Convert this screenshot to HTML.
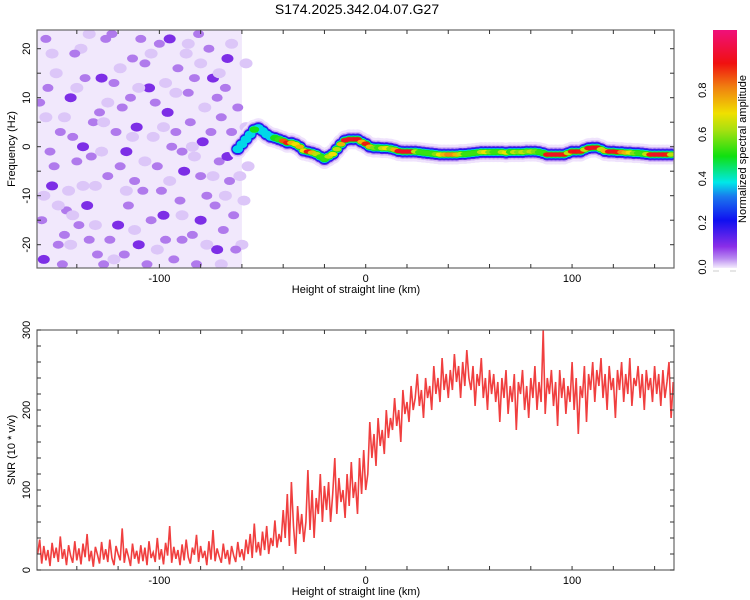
<!DOCTYPE html>
<html><head><meta charset="utf-8"><style>
body{margin:0;background:#fff;}
svg{display:block;font-family:"Liberation Sans",sans-serif;}
</style></head><body>
<svg id="fig" width="750" height="600" viewBox="0 0 750 600">
<defs>
<clipPath id="clipTop"><rect x="37" y="30" width="637" height="238"/></clipPath>
<clipPath id="clipBot"><rect x="37" y="330" width="637" height="240"/></clipPath>
<linearGradient id="cbar" x1="0" y1="1" x2="0" y2="0">
<stop offset="0" stop-color="#f4ecfd"/><stop offset="0.04" stop-color="#b98af0"/>
<stop offset="0.09" stop-color="#8a2ee8"/><stop offset="0.2" stop-color="#1010f0"/>
<stop offset="0.3" stop-color="#1a78ee"/><stop offset="0.36" stop-color="#00e8e8"/>
<stop offset="0.47" stop-color="#10e010"/><stop offset="0.58" stop-color="#a8e010"/>
<stop offset="0.65" stop-color="#f0e000"/><stop offset="0.76" stop-color="#f08010"/>
<stop offset="0.86" stop-color="#f01010"/><stop offset="1" stop-color="#f0107a"/>
</linearGradient>
</defs>
<text x="357" y="14" text-anchor="middle" font-size="14">S174.2025.342.04.07.G27</text>
<g id="topPanel"></g>
<g id="botPanel"></g>
<g>
<rect x="713" y="30" width="24" height="238" fill="url(#cbar)"/>
<line x1="713" y1="271" x2="719" y2="271" stroke="#ccc"/>
<line x1="730" y1="271" x2="736" y2="271" stroke="#ccc"/>
<g id="cbticks" font-size="11"></g>
<text transform="translate(746,149) rotate(-90)" text-anchor="middle" font-size="11">Normalized spectral amplitude</text>
</g>
</svg>
<script>
// ---- data ----
const ridgeF=[-0.5,0.5,1.5,2.5,3.5,3.8,3.2,2.5,2,1.8,
1.5,1.2,0.8,0.8,0.5,0,-0.8,-1,-1.2,-1.5,
-2,-2.5,-2,-1.5,-0.5,0.5,1.3,1.5,1.5,1.5,
1,0.6,0,-0.2,-0.2,-0.3,-0.3,-0.4,-0.6,-0.9,
-1,-1,-1,-1,-1.1,-1.2,-1.3,-1.4,-1.5,-1.6,
-1.6,-1.6,-1.6,-1.6,-1.5,-1.5,-1.4,-1.3,-1.2,-1.1,
-1.1,-1.1,-1.1,-1.1,-1.1,-1.2,-1.1,-1.1,-1.1,-1.1,
-1,-1,-1,-1.1,-1.3,-1.6,-1.6,-1.6,-1.6,-1.6,
-1.3,-1,-1,-1,-0.6,-0.3,-0.2,-0.2,-0.5,-0.9,
-1,-1,-1.1,-1.1,-1.2,-1.2,-1.3,-1.3,-1.4,-1.5,
-1.6,-1.6,-1.6,-1.6,-1.6,-1.6];
const ridgeA=[0.3,0.35,0.3,0.35,0.45,0.4,0.3,0.25,0.35,0.45,
0.5,0.8,0.85,0.7,0.65,0.7,0.65,0.85,0.7,0.6,
0.5,0.5,0.6,0.65,0.6,0.7,0.9,0.9,0.9,0.88,
0.7,0.85,0.7,0.55,0.5,0.6,0.65,0.55,0.7,0.9,
0.9,0.9,0.9,0.6,0.5,0.5,0.5,0.5,0.55,0.65,
0.7,0.75,0.75,0.7,0.6,0.5,0.5,0.5,0.5,0.6,
0.65,0.55,0.5,0.5,0.6,0.65,0.5,0.6,0.55,0.6,
0.55,0.6,0.55,0.5,0.5,0.88,0.9,0.9,0.9,0.85,
0.6,0.85,0.88,0.85,0.6,0.88,0.9,0.88,0.6,0.7,
0.88,0.9,0.85,0.75,0.7,0.65,0.55,0.5,0.5,0.6,
0.85,0.9,0.9,0.9,0.85,0.6];
const ridgeStartKm=-62, ridgeStepKm=2;
const noiseBlobs=[[-155,22,2],[-150,15,1],[-148,3,2],[-152,-8,3],[-146,-18,2],[-156,-23,3],[-143,10,3],[-140,-3,2],[-138,20,1],[-135,-12,3],[-132,5,2],[-130,-22,2],[-128,14,3],[-125,-6,2],[-123,23,2],[-120,-16,3],[-118,8,2],[-116,-1,3],[-113,18,2],[-110,-20,3],[-108,-9,2],[-105,12,3],[-103,2,1],[-100,21,2],[-98,-14,3],[-96,7,3],[-93,-23,2],[-91,16,2],[-88,-5,3],[-86,11,2],[-84,-18,2],[-81,23,2],[-79,1,3],[-77,-10,2],[-74,14,3],[-72,-21,3],[-70,6,2],[-67,18,3],[-66,-7,2],[-64,-14,2],[-62,25,1],[-60,-20,1],[-153,-1,2],[-145,-13,2],[-137,0,3],[-127,-24,2],[-122,13,2],[-115,-12,2],[-111,4,3],[-106,-24,2],[-101,-4,2],[-95,22,3],[-90,-11,2],[-85,5,2],[-80,-15,3],[-76,20,2],[-71,-3,2],[-68,12,2],[-149,-20,2],[-141,19,2],[-134,-19,2],[-119,-4,2],[-97,-19,2],[-87,19,1],[-82,-24,2],[-73,-12,2],[-65,3,2],[-158,9,2],[-157,-15,2],[-144,-9,1],[-131,-8,1],[-126,22,2],[-117,-22,2],[-107,17,2],[-94,0,2],[-89,-1,2],[-78,8,1],[-69,-17,2],
[-154,12,2],[-151,-4,2],[-147,-24,2],[-142,2,2],[-139,-16,2],[-136,14,2],[-133,-2,2],[-129,7,2],[-124,-19,2],[-121,3,2],[-114,10,2],[-112,-7,2],[-109,22,2],[-104,-15,2],[-102,9,2],[-99,-9,2],[-92,3,2],[-89,-19,2],[-83,14,2],[-80,-6,2],[-75,3,2],[-72,10,2],[-67,-2,3],[-63,-21,2],[-62,8,2],[-59,-11,1],[-58,17,1],[-57,-4,1],
[-155,6,1],[-152,19,1],[-149,-12,1],[-146,6,1],[-143,-20,1],[-140,12,1],[-137,-8,1],[-134,23,1],[-131,-16,1],[-128,-1,1],[-125,9,1],[-122,-23,1],[-119,16,1],[-116,-9,1],[-113,2,1],[-110,12,1],[-107,-3,1],[-104,19,1],[-101,-21,1],[-98,4,1],[-95,-7,1],[-92,11,1],[-89,-14,1],[-86,21,1],[-83,-2,1],[-80,17,1],[-77,-20,1],[-74,-6,1],[-71,15,1],[-68,-10,1],[-65,21,1],[-61,-6,1],[-58,4,1],[-156,-10,1],[-142,-14,1],[-127,5,1],[-112,-17,1],[-97,13,1],[-84,0,1],[-70,-24,1]];
const snrStartKm=-159;
const snr=[20,38,8,30,12,25,5,34,15,28,
10,42,14,26,6,31,18,9,36,12,
27,7,33,16,45,11,24,4,29,19,
8,35,13,26,10,38,15,6,30,20,
12,52,9,27,17,5,33,14,24,8,
31,11,28,6,36,15,22,10,40,13,
26,7,34,18,55,9,29,14,25,6,
32,12,38,16,8,28,19,44,10,30,
15,24,6,36,13,50,11,27,17,9,
33,14,25,7,30,18,10,35,16,26,
12,38,20,45,15,58,22,35,18,48,
25,55,20,40,30,62,28,45,35,75,
40,95,30,110,55,20,80,45,70,35,
60,125,50,100,40,90,70,120,60,105,
75,110,60,95,140,70,115,85,100,65,
120,80,135,90,110,70,140,95,150,100,
120,185,140,170,130,190,155,175,145,200,
165,190,175,215,180,200,160,225,195,210,
185,230,200,215,245,205,225,190,240,215,
230,200,255,220,240,210,265,225,245,215,
250,225,270,235,255,215,260,230,275,240,
225,255,205,245,230,265,215,240,200,250,
220,245,210,235,185,240,215,250,195,230,
210,245,175,235,220,250,200,230,190,240,
215,255,200,235,210,300,195,240,220,250,
205,235,180,250,215,240,195,230,210,260,
200,240,170,230,215,255,185,245,225,260,
210,250,230,265,215,245,200,255,225,240,
190,250,225,260,210,245,220,265,205,240,
230,255,215,245,200,250,225,240,210,255,
220,245,205,250,215,235,260,190,235];
const xTicks=[-100,0,100];
const freqTicks=[-20,-10,0,10,20];
const snrTicks=[0,100,200,300];
const cbTicks=["0.0","0.2","0.4","0.6","0.8"];

// ---- axes ----
const X0=37,X1=674,KM0=-159.3,KM1=149.4;
const xs=k=>X0+(k-KM0)/(KM1-KM0)*(X1-X0);
const fy=f=>146.7-f*4.9;
const sy=v=>570-v*0.8;
const cy=v=>267-v*221;
const NS="http://www.w3.org/2000/svg";
function mk(tag,attrs,parent){const e=document.createElementNS(NS,tag);for(const k in attrs)e.setAttribute(k,attrs[k]);parent.appendChild(e);return e;}
function ampColor(a){
 const st=[[0,[244,236,253]],[0.04,[185,138,240]],[0.09,[138,46,232]],[0.2,[16,16,240]],[0.3,[26,120,238]],[0.36,[0,232,232]],[0.47,[16,224,16]],[0.58,[168,224,16]],[0.65,[240,224,0]],[0.76,[240,128,16]],[0.86,[240,16,16]],[1.07,[240,16,122]]];
 for(let i=1;i<st.length;i++){if(a<=st[i][0]){const t=(a-st[i-1][0])/(st[i][0]-st[i-1][0]);const c=st[i-1][1].map((v,j)=>Math.round(v+t*(st[i][1][j]-v)));return `rgb(${c})`;}}
 return 'rgb(240,16,122)';
}
const topG=document.getElementById('topPanel'),botG=document.getElementById('botPanel');

// ---- spectrogram ----
const sg=mk('g',{'clip-path':'url(#clipTop)'},topG);


const bgr=mk('rect',{x:X0,y:30,width:xs(-60)-X0,height:238,fill:'#f1e8fc'},sg);


const blobCol={1:'#dcc6f8',2:'#b07aec',3:'#7d2ee6'};
const blobR={1:5,2:4,3:4.5};
noiseBlobs.forEach(b=>{
 const c=mk('ellipse',{cx:xs(b[0]),cy:fy(b[1]),rx:blobR[b[2]]+1.5,ry:blobR[b[2]],fill:blobCol[b[2]]},sg);
 
 
});
const layers=[[10,'#efe3fc',0],[7.5,'#d2b4f6',0],[6,'#5a28e8',0],[5,'#1414f0',0],[4,'#00d8e8',0.25],[3.2,'#18e018',0.45],[2.2,null,0.5]];
layers.forEach(L=>{
 ridgeF.forEach((f,i)=>{
  const a=ridgeA[i];
  if(a<L[2])return;
  const k=ridgeStartKm+i*ridgeStepKm;
  const e=mk('ellipse',{cx:xs(k),cy:fy(f),rx:L[0]*0.6+3,ry:L[0],fill:L[1]||ampColor(a)},sg);
  
  
 });
});

// ---- frames & ticks ----
function frame(g,yt,yb,name){
 const r=mk('rect',{x:X0,y:yt,width:X1-X0,height:yb-yt,fill:'none',stroke:'#666','stroke-width':1.2},g);
 
 
 for(let k=-140;k<=140;k+=20){const x=xs(k);
  mk('line',{x1:x,y1:yb,x2:x,y2:yb-4,stroke:'#333'},g);
  mk('line',{x1:x,y1:yt,x2:x,y2:yt+4,stroke:'#333'},g);}
 xTicks.forEach(k=>{const t=mk('text',{x:xs(k),y:yb+14,'text-anchor':'middle','font-size':11},g);t.textContent=k;
  
  });
 const xl=mk('text',{x:356,y:yb+25,'text-anchor':'middle','font-size':11},g);xl.textContent='Height of straight line (km)';
 
 
}
frame(topG,30,268,'spectrogram-frame');
for(let f=-20;f<=20;f+=5){const y=fy(f);mk('line',{x1:X0,y1:y,x2:X0+4,y2:y,stroke:'#333'},topG);mk('line',{x1:X1,y1:y,x2:X1-4,y2:y,stroke:'#333'},topG);}
freqTicks.forEach(f=>{const t=mk('text',{transform:`translate(30,${fy(f)}) rotate(-90)`,'text-anchor':'middle','font-size':11},topG);t.textContent=f;
 
 });
const yl1=mk('text',{transform:'translate(15,149) rotate(-90)','text-anchor':'middle','font-size':11},topG);yl1.textContent='Frequency (Hz)';



// ---- SNR ----
const pts=snr.map((v,i)=>`${xs(snrStartKm+i).toFixed(1)},${sy(v).toFixed(1)}`).join(' ');
const pl=mk('polyline',{points:pts,fill:'none',stroke:'#ee2a2a','stroke-width':1.6,'stroke-opacity':0.9,'clip-path':'url(#clipBot)'},botG);


frame(botG,330,570,'snr-frame');
for(let v=0;v<=300;v+=20){const y=sy(v);mk('line',{x1:X0,y1:y,x2:X0+4,y2:y,stroke:'#333'},botG);mk('line',{x1:X1,y1:y,x2:X1-4,y2:y,stroke:'#333'},botG);}
snrTicks.forEach(v=>{const t=mk('text',{transform:`translate(30,${sy(v)}) rotate(-90)`,'text-anchor':'middle','font-size':11},botG);t.textContent=v;
 
 });
const yl2=mk('text',{transform:'translate(15,450) rotate(-90)','text-anchor':'middle','font-size':11},botG);yl2.textContent='SNR (10 * v/v)';



// ---- colorbar ticks ----
const cbg=document.getElementById('cbticks');
cbTicks.forEach(s=>{const t=mk('text',{transform:`translate(706,${cy(parseFloat(s))}) rotate(-90)`,'text-anchor':'middle'},cbg);t.textContent=s;
 
 });
</script>
</body></html>
